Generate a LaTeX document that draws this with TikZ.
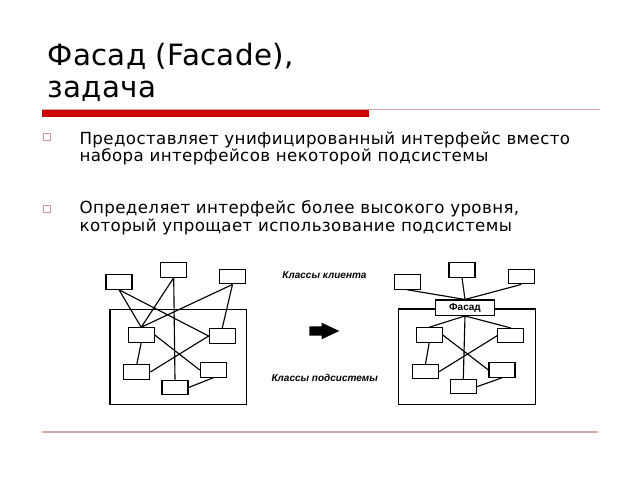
\documentclass[tikz,border=0pt]{standalone}
\usepackage{fontspec}
\setmainfont{DejaVu Sans}
\newfontfamily\lblfont{Liberation Sans}
\usetikzlibrary{positioning}
\definecolor{barred}{RGB}{204,0,0}
\definecolor{rulepink}{RGB}{205,170,168}
\definecolor{bulletpink}{RGB}{200,150,150}

\begin{document}
\begin{tikzpicture}[x=0.75pt,y=-0.75pt,line width=0.85pt,
  cls/.style={draw,minimum width=19.5pt,minimum height=10.8pt,inner sep=0pt},
  facbox/.style={draw,fill=white,minimum width=44pt,minimum height=11.5pt,inner sep=0pt,
    font=\lblfont\bfseries\fontsize{7.5}{8}\selectfont},
  ttl/.style={anchor=base west,inner sep=0pt,
    font=\fontsize{22}{26}\selectfont\addfontfeature{LetterSpace=1}},
  txt/.style={anchor=base west,inner sep=0pt,
    font=\fontsize{12.5}{14}\selectfont\addfontfeature{LetterSpace=2.3}},
  lbl/.style={inner sep=0pt,font=\lblfont\bfseries\itshape\fontsize{7.5}{8}\selectfont},
  bul/.style={draw=bulletpink,line width=0.5pt,minimum size=5.5pt,inner sep=0pt}]
\useasboundingbox (0,0) rectangle (640,480);

% title and rules
\node[ttl] (t1) at (47,65) {Фасад (Facade),};
\node[ttl] (t2) at (47,97) {задача};
\draw[rulepink,line width=0.8pt] (42,109.5) -- (600,109.5);
\fill[barred] (42,110) rectangle (369,116.5);
\draw[rulepink,line width=1.5pt] (42,431.5) -- (598,431.5);

% bullets
\node[bul] (b1) at (47,137) {};
\node[bul] (b2) at (47,208.7) {};
\node[txt] (p1) at (79,144) {Предоставляет унифицированный интерфейс вместо};
\node[txt] (p2) at (79,161.7) {набора интерфейсов некоторой подсистемы};
\node[txt] (p3) at (79,213.3) {Определяет интерфейс более высокого уровня,};
\node[txt] (p4) at (79,231) {который упрощает использование подсистемы};

% left: without facade
\draw (110,309.3) rectangle (246.7,404.3);
\node[cls] (A) at (119,282) {};
\node[cls] (B) at (173.7,270) {};
\node[cls] (C) at (232.5,276.7) {};
\node[cls] (D) at (141.2,335) {};
\node[cls] (E) at (222.2,336) {};
\node[cls] (F) at (136.8,372) {};
\node[cls] (G) at (213.3,370) {};
\node[cls] (H) at (175,387.5) {};
\draw (A.south)--(D.north) (A.south)--(E.west) (B.south)--(D.north) (B.south)--(H.north)
  (C.south)--(D.north) (C.south)--(E.north) (D.south)--(F.north) (D.east)--(G.west)
  (F.east)--(E.west) (H.east)--(G.south);

% middle
\node[lbl] (kc) at (324.5,275) {Классы клиента};
\node[lbl] (ks) at (324.7,378.3) {Классы подсистемы};
\fill (309.3,326.3)--(321.7,326.3)--(321.7,322.7)--(339.3,331)--(321.7,339.3)
  --(321.7,335.7)--(309.3,335.7)--cycle;

% right: with facade
\draw (398.3,309) rectangle (535.7,404.3);
\node[cls] (A2) at (407.3,282) {};
\node[cls] (B2) at (462,270) {};
\node[cls] (C2) at (521.2,276.7) {};
\node[cls] (D2) at (429.2,335) {};
\node[cls] (E2) at (510.7,335.7) {};
\node[cls] (F2) at (425.5,371.7) {};
\node[cls] (G2) at (502,370) {};
\node[cls] (H2) at (463.3,386.7) {};
\node[facbox] (Fac) at (465,307.7) {Фасад};
\draw (A2.south)--(Fac.north) (B2.south)--(Fac.north) (C2.south)--(Fac.north)
  (Fac.south)--(D2.north) (Fac.south)--(E2.north) (Fac.south)--(H2.north)
  (D2.south)--(F2.north) (D2.east)--(G2.west) (F2.east)--(E2.west) (H2.east)--(G2.south);
\end{tikzpicture}
\end{document}
